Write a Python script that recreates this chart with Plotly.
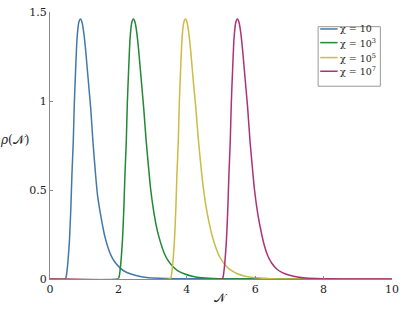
import plotly.graph_objects as go

# Series (x = N, y = rho(N))
names = ["χ = 10", "χ = 10<sup>3</sup>", "χ = 10<sup>5</sup>", "χ = 10<sup>7</sup>"]
colors = ["#4477AA", "#228833", "#CCBB44", "#AA3377"]

x_chi1 = [0.0, 0.43, 0.47, 0.50, 0.53, 0.57, 0.61, 0.64, 0.68, 0.71, 0.75, 0.79, 0.84, 0.89,
          0.94, 0.99, 1.04, 1.09, 1.14, 1.19, 1.26, 1.34, 1.39, 1.49, 1.59, 1.69, 1.79, 1.89,
          2.04, 2.19, 2.39, 2.64, 2.89, 3.39, 3.89, 10.0]
y_chi1 = [0.0, 0.0, 0.01, 0.05, 0.11, 0.22, 0.40, 0.58, 0.77, 0.98, 1.18, 1.35, 1.44, 1.46,
          1.44, 1.38, 1.29, 1.18, 1.07, 0.96, 0.76, 0.57, 0.47, 0.35, 0.25, 0.18, 0.13, 0.097,
          0.064, 0.042, 0.027, 0.014, 0.007, 0.003, 0.001, 0.0]

x_chi3 = [0.0, 1.98, 2.02, 2.05, 2.08, 2.12, 2.16, 2.19, 2.23, 2.26, 2.30, 2.34, 2.39, 2.44,
          2.49, 2.54, 2.59, 2.64, 2.69, 2.74, 2.81, 2.89, 2.94, 3.04, 3.14, 3.24, 3.34, 3.44,
          3.59, 3.74, 3.94, 4.19, 4.44, 4.94, 5.44, 10.0]
y_chi3 = [0.0, 0.0, 0.01, 0.05, 0.11, 0.22, 0.40, 0.58, 0.77, 0.98, 1.18, 1.35, 1.44, 1.46,
          1.44, 1.38, 1.29, 1.18, 1.07, 0.96, 0.78, 0.61, 0.51, 0.37, 0.27, 0.20, 0.145, 0.107,
          0.07, 0.046, 0.028, 0.014, 0.007, 0.002, 0.0005, 0.0]

x_chi5 = [0.0, 3.50, 3.54, 3.57, 3.60, 3.64, 3.68, 3.71, 3.75, 3.78, 3.82, 3.86, 3.91, 3.96,
          4.01, 4.06, 4.11, 4.16, 4.21, 4.26, 4.33, 4.41, 4.46, 4.56, 4.66, 4.76, 4.86, 4.96,
          5.11, 5.26, 5.46, 5.71, 5.96, 6.46, 6.96, 10.0]
y_chi5 = [0.0, 0.0, 0.01, 0.05, 0.11, 0.22, 0.40, 0.58, 0.77, 0.98, 1.18, 1.35, 1.44, 1.46,
          1.44, 1.38, 1.29, 1.18, 1.07, 0.97, 0.80, 0.64, 0.55, 0.41, 0.31, 0.23, 0.17, 0.125,
          0.082, 0.054, 0.031, 0.016, 0.008, 0.002, 0.0005, 0.0]

x_chi7 = [0.0, 5.02, 5.06, 5.09, 5.12, 5.16, 5.20, 5.23, 5.27, 5.30, 5.34, 5.38, 5.43, 5.48,
          5.53, 5.58, 5.63, 5.68, 5.73, 5.78, 5.85, 5.93, 5.98, 6.08, 6.18, 6.28, 6.38, 6.48,
          6.63, 6.78, 6.98, 7.23, 7.48, 7.98, 8.48, 10.0]
y_chi7 = [0.0, 0.0, 0.01, 0.05, 0.11, 0.22, 0.40, 0.58, 0.77, 0.98, 1.18, 1.35, 1.44, 1.46,
          1.44, 1.38, 1.29, 1.18, 1.07, 0.96, 0.77, 0.60, 0.50, 0.36, 0.26, 0.18, 0.125, 0.09,
          0.056, 0.037, 0.022, 0.011, 0.005, 0.0015, 0.0004, 0.0]

x_ticks = [0, 2, 4, 6, 8, 10]
x_ticklabels = ["0", "2", "4", "6", "8", "10"]
y_ticks = [0, 0.5, 1, 1.5]
y_ticklabels = ["0", "0.5", "1", "1.5"]

series_x = [x_chi1, x_chi3, x_chi5, x_chi7]
series_y = [y_chi1, y_chi3, y_chi5, y_chi7]

FONT = "DejaVu Serif"

fig = go.Figure()
for xs, ys, nm, c in zip(series_x, series_y, names, colors):
    fig.add_trace(go.Scatter(x=xs, y=ys, mode="lines", name=nm, showlegend=False,
                             line=dict(color=c, width=1.5, shape="spline", smoothing=0.5)))

axis_common = dict(showgrid=False, zeroline=False, showline=True, linecolor="#8a8a8a",
                   linewidth=1, ticks="inside", ticklen=3, tickcolor="#8a8a8a",
                   ticklabeloverflow="allow",
                   tickfont=dict(family=FONT, size=11, color="#222"))

fig.update_xaxes(range=[0, 10], tickvals=x_ticks, ticktext=x_ticklabels, **axis_common)
fig.update_yaxes(range=[0, 1.5], tickvals=y_ticks, ticktext=y_ticklabels, **axis_common)

# Compact legend box (drawn in paper coordinates)
leg_x0, leg_x1, leg_y0, leg_y1 = 0.784, 0.966, 0.722, 0.945
line_x0, line_x1, text_x = 0.790, 0.841, 0.843
row_y = [0.9365, 0.8853, 0.8293, 0.7781]

shapes = [dict(type="rect", xref="paper", yref="paper", x0=leg_x0, x1=leg_x1,
               y0=leg_y0, y1=leg_y1, line=dict(color="#999", width=1), fillcolor="white",
               layer="above")]
annotations = []
for nm, c, ry in zip(names, colors, row_y):
    shapes.append(dict(type="line", xref="paper", yref="paper", x0=line_x0, x1=line_x1,
                       y0=ry, y1=ry, line=dict(color=c, width=1.5), layer="above"))
    annotations.append(dict(text=nm, xref="paper", yref="paper", x=text_x, y=ry,
                            xanchor="left", yanchor="middle", showarrow=False,
                            font=dict(family=FONT, size=9.5, color="#222")))

annotations += [
    dict(text="<i>ρ</i>(𝒩)", xref="paper", yref="paper", x=-0.104, y=0.52,
         xanchor="center", yanchor="middle", showarrow=False,
         font=dict(family=FONT, size=12, color="#222")),
    dict(text="𝒩", xref="paper", yref="paper", x=0.5, y=-0.072,
         xanchor="center", yanchor="middle", showarrow=False,
         font=dict(family=FONT, size=12, color="#222")),
]

fig.update_layout(
    width=405, height=310,
    margin=dict(l=50, r=8, t=6, b=31),
    paper_bgcolor="white", plot_bgcolor="white",
    showlegend=False,
    shapes=shapes,
    annotations=annotations,
)

fig.write_html("out.html", config={"displayModeBar": False},
               post_script="document.body.style.margin='0';")
